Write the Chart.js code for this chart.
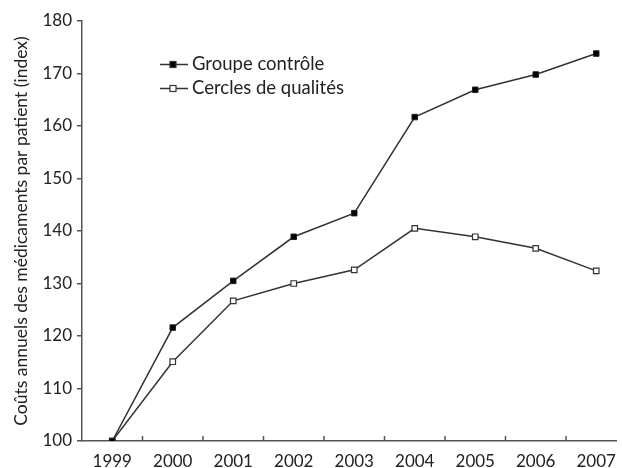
<!DOCTYPE html>
<html>
<head>
<meta charset="utf-8">
<script src="https://cdn.jsdelivr.net/npm/chart.js@4"></script>
<style>
  html, body { margin: 0; padding: 0; background: #fff; overflow: hidden; }
  #wrap { width: 622px; height: 468px; position: relative; }
</style>
</head>
<body>
<div id="wrap"><canvas id="chart"></canvas></div>
<script>
const years = [1999, 2000, 2001, 2002, 2003, 2004, 2005, 2006, 2007];
const groupeControle = [100, 121.6, 130.5, 138.9, 143.4, 161.7, 166.9, 169.8, 173.8];
const cerclesQualite = [100, 115.1, 126.7, 130.0, 132.6, 140.5, 138.9, 136.7, 132.4];
const yTicks = [100, 110, 120, 130, 140, 150, 160, 170, 180];
const seriesLabels = ["Groupe contrôle", "Cercles de qualités"];

const FONT = "Lato";
const INK = "#222";
const AXIS = "#555";

// petites graduations vers l'intérieur, entre les années
const innerTicks = {
  id: "innerTicks",
  afterDraw(chart) {
    const ctx = chart.ctx, x = chart.scales.x, bottom = chart.chartArea.bottom;
    ctx.save();
    ctx.strokeStyle = AXIS;
    ctx.lineWidth = 1.5;
    for (let i = 0; i < years.length - 1; i++) {
      const px = x.getPixelForValue(years[i] + 0.5);
      ctx.beginPath();
      ctx.moveTo(px, bottom);
      ctx.lineTo(px, bottom - 5);
      ctx.stroke();
    }
    ctx.restore();
  }
};

// légende dans la zone du graphique
const innerLegend = {
  id: "innerLegend",
  afterDraw(chart) {
    const ctx = chart.ctx;
    ctx.save();
    chart.data.datasets.forEach((ds, i) => {
      const y = 64.5 + i * 24;
      ctx.strokeStyle = ds.borderColor;
      ctx.lineWidth = 1.5;
      ctx.beginPath();
      ctx.moveTo(160, y);
      ctx.lineTo(188, y);
      ctx.stroke();
      ctx.fillStyle = ds.pointBackgroundColor;
      ctx.lineWidth = 1.2;
      ctx.fillRect(173 - 3, y - 3, 6, 6);
      ctx.strokeRect(173 - 3, y - 3, 6, 6);
      ctx.fillStyle = INK;
      ctx.font = "18.5px " + FONT;
      ctx.textBaseline = "middle";
      ctx.fillText(ds.label, 192, y);
    });
    ctx.restore();
  }
};

new Chart(document.getElementById("chart"), {
  type: "line",
  data: {
    datasets: [
      {
        label: seriesLabels[0],
        data: years.map((yr, i) => ({ x: yr, y: groupeControle[i] })),
        borderColor: "#333",
        borderWidth: 1.5,
        pointStyle: "rect",
        pointRadius: 3.9,
        pointBackgroundColor: "#000",
        pointBorderColor: "#222",
        pointBorderWidth: 1,
        tension: 0,
      },
      {
        label: seriesLabels[1],
        data: years.map((yr, i) => ({ x: yr, y: cerclesQualite[i] })),
        borderColor: "#333",
        borderWidth: 1.5,
        pointStyle: "rect",
        pointRadius: 3.9,
        pointBackgroundColor: "#fff",
        pointBorderColor: "#333",
        pointBorderWidth: 1.2,
        tension: 0,
      },
    ],
  },
  options: {
    responsive: true,
    maintainAspectRatio: false,
    animation: false,
    layout: { padding: { top: 21, right: 0, left: 0, bottom: 0 } },
    plugins: { legend: { display: false }, tooltip: { enabled: false } },
    scales: {
      x: {
        type: "linear",
        min: 1998.5,
        max: 2007.34,
        afterBuildTicks: (s) => { s.ticks = years.map((v) => ({ value: v })); },
        afterFit: (s) => { s.height = 27; },
        grid: { display: false },
        border: { display: true, color: AXIS, width: 1.5 },
        ticks: {
          color: INK,
          font: { family: FONT, size: 17 },
          padding: 2,
          maxRotation: 0,
          autoSkip: false,
          callback: (v) => String(v),
        },
      },
      y: {
        min: 100,
        max: 180,
        afterBuildTicks: (s) => { s.ticks = yTicks.map((v) => ({ value: v })); },
        afterFit: (s) => { s.width = 82; },
        grid: { drawOnChartArea: false, drawTicks: true, tickLength: 5, color: AXIS, lineWidth: 1.5 },
        border: { display: true, color: AXIS, width: 1.5 },
        ticks: {
          color: INK,
          font: { family: FONT, size: 17 },
          padding: 5,
        },
        title: {
          display: true,
          text: "Coûts annuels des médicaments par patient (index)",
          color: INK,
          font: { family: FONT, size: 17.5 },
          padding: { top: 11, bottom: 0 },
        },
      },
    },
  },
  plugins: [innerTicks, innerLegend],
});
</script>
</body>
</html>
